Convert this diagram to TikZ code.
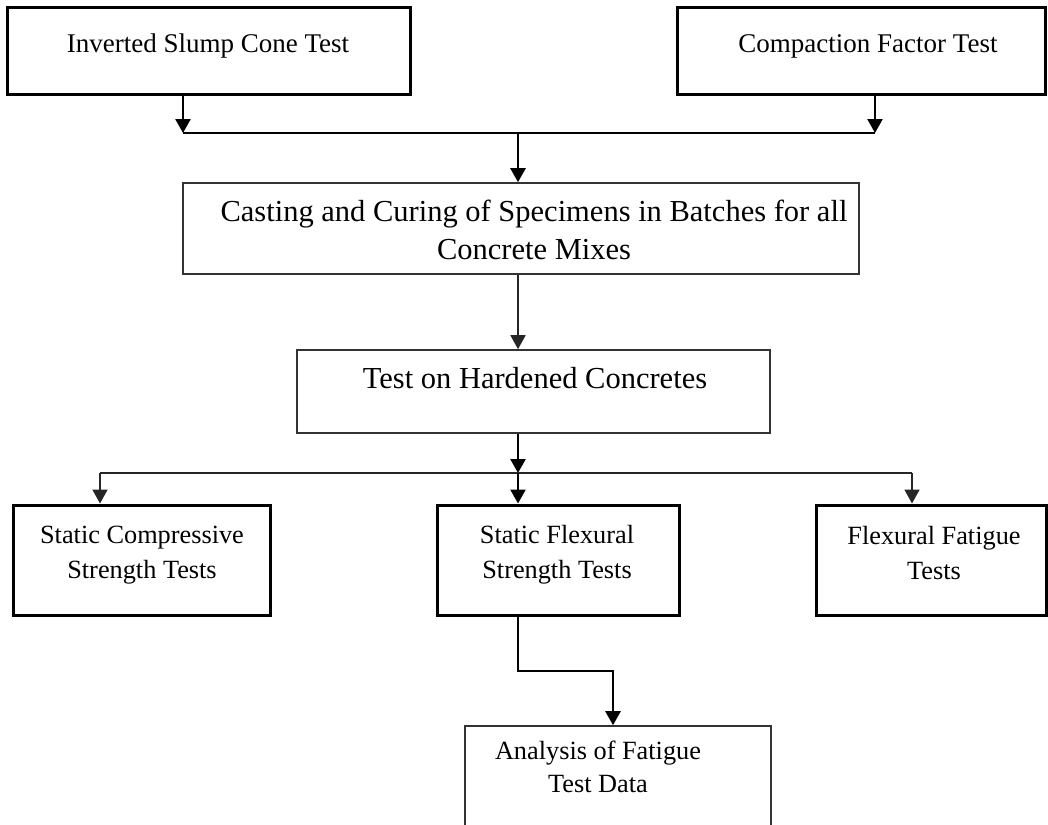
\documentclass[tikz,border=0pt]{standalone}
\usepackage{fontspec}
\setmainfont{Liberation Serif}
\usetikzlibrary{arrows.meta}
\begin{document}
\begin{tikzpicture}[x=1pt,y=-1pt,
  thickbox/.style={draw=black,line width=3pt,inner sep=0pt},
  thinbox/.style={draw=black!80,line width=1.6pt,inner sep=0pt},
  lbl/.style={inner sep=0pt,align=center},
  conn/.style={draw=black,line width=2.6pt},
  thinconn/.style={draw=black!85,line width=1.8pt},
  arr/.style={conn,-{Triangle[width=15pt,length=14pt]}},
  thinarr/.style={thinconn,-{Triangle[width=15pt,length=14pt]}}]
\useasboundingbox (0,0) rectangle (1048,824);
% boxes
\node[thickbox,minimum width=403pt,minimum height=87pt] (isct) at (208.5,51.5) {};
\node[thickbox,minimum width=368pt,minimum height=87pt] (cft) at (861,51.5) {};
\node[thinbox,minimum width=676pt,minimum height=91pt] (cast) at (521,228.5) {};
\node[thinbox,minimum width=473pt,minimum height=83pt] (test) at (533.5,391.5) {};
\node[thickbox,minimum width=257pt,minimum height=110pt] (sc) at (141.5,560) {};
\node[thickbox,minimum width=242pt,minimum height=110pt] (sf) at (558,560) {};
\node[thickbox,minimum width=230pt,minimum height=110pt] (ff) at (931,560) {};
\node[thinbox,minimum width=306pt,minimum height=112pt] (ana) at (618,782) {};
% texts
\node[lbl,font=\fontsize{27}{31}\selectfont] (t1) at (208,46) {Inverted Slump Cone Test};
\node[lbl,font=\fontsize{27}{31}\selectfont] (t2) at (868,46) {Compaction Factor Test};
\node[lbl,font=\fontsize{30.5}{38}\selectfont] (t3) at (534,230) {Casting and Curing of Specimens in Batches for all\\Concrete Mixes};
\node[lbl,font=\fontsize{30.5}{34}\selectfont] (t4) at (535,378) {Test on Hardened Concretes};
\node[lbl,font=\fontsize{26.3}{35}\selectfont] (t5) at (142,555) {Static Compressive\\Strength Tests};
\node[lbl,font=\fontsize{26.3}{35}\selectfont] (t6) at (557,555) {Static Flexural\\Strength Tests};
\node[lbl,font=\fontsize{26.3}{35}\selectfont] (t7) at (934,553) {Flexural Fatigue\\Tests};
\node[lbl,font=\fontsize{26.3}{33}\selectfont] (t8) at (598,767) {Analysis of Fatigue\\Test Data};
% junctions
\coordinate (jL) at (183,133);
\coordinate (jM) at (518,133);
\coordinate (jR) at (875,133);
\coordinate (kL) at (100,473);
\coordinate (kM) at (518,473);
\coordinate (kR) at (912,473);
\coordinate (m1) at (518,671);
\coordinate (m2) at (613,671);
% connectors
\draw[arr] (isct.south -| jL) -- (jL);
\draw[arr] (cft.south -| jR) -- (jR);
\draw[conn] (jL) -- (jR);
\draw[arr] (jM) -- (cast.north -| jM);
\draw[thinarr] (cast.south -| jM) -- (test.north -| jM);
\draw[arr] (test.south -| kM) -- (kM);
\draw[thinconn] (kL) -- (kR);
\draw[thinarr] (kL) -- (sc.north -| kL);
\draw[arr] (kM) -- (sf.north -| kM);
\draw[thinarr] (kR) -- (ff.north -| kR);
\draw[arr] (sf.south -| m1) -- (m1) -- (m2) -- (ana.north -| m2);
\end{tikzpicture}
\end{document}
